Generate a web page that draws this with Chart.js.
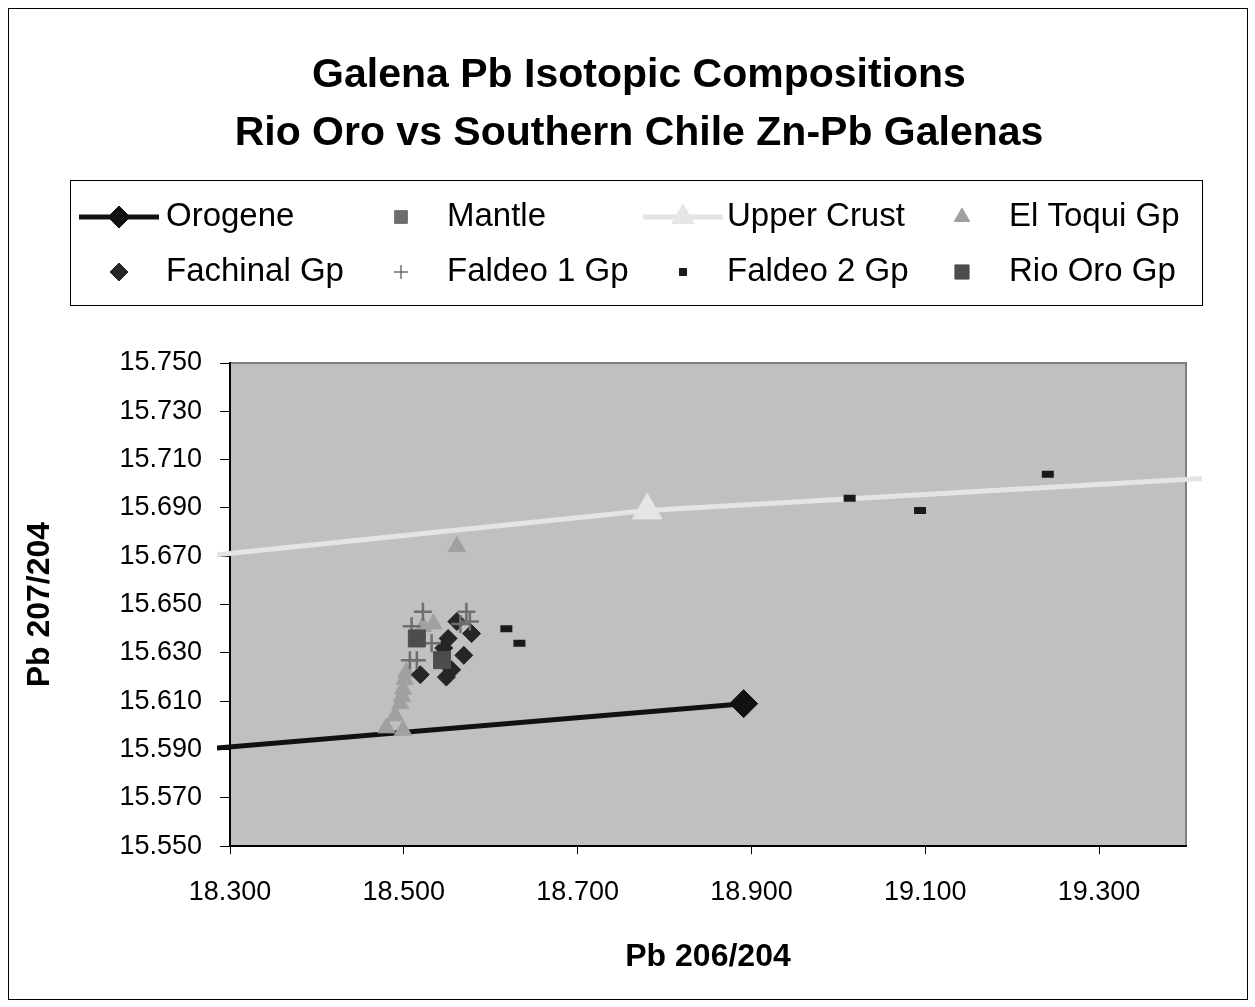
<!DOCTYPE html>
<html>
<head>
<meta charset="utf-8">
<script src="https://cdn.jsdelivr.net/npm/chart.js@4.4.1/dist/chart.umd.min.js"></script>
<style>
  html, body { margin: 0; padding: 0; background: #fff; }
</style>
</head>
<body>
<canvas id="chart" width="1255" height="1007"></canvas>
<script>
// Pb 206/204 (x) vs Pb 207/204 (y)
let orogene_x = [18.0, 18.891];
let orogene_y = [15.582, 15.609];

let mantle_x = [];
let mantle_y = [];

let upper_x = [18.0, 18.780, 19.7];
let upper_y = [15.660, 15.689, 15.708];

let toqui_x = [18.480, 18.499, 18.490, 18.496, 18.498, 18.499, 18.501, 18.503, 18.522, 18.534, 18.561];
let toqui_y = [15.599, 15.598, 15.604, 15.609, 15.612, 15.615, 15.619, 15.622, 15.641, 15.642, 15.674];

let fachinal_x = [18.561, 18.578, 18.551, 18.546, 18.569, 18.555, 18.549, 18.519];
let fachinal_y = [15.643, 15.638, 15.636, 15.632, 15.629, 15.623, 15.620, 15.621];

let faldeo1_x = [18.522, 18.509, 18.532, 18.507, 18.515, 18.572, 18.576, 18.565];
let faldeo1_y = [15.647, 15.641, 15.634, 15.627, 15.627, 15.647, 15.643, 15.642];

let faldeo2_x = [18.618, 18.633, 19.013, 19.094, 19.241];
let faldeo2_y = [15.640, 15.634, 15.694, 15.689, 15.704];

let rioOro_x = [18.515, 18.544];
let rioOro_y = [15.636, 15.627];

let x_ticks = [18.3, 18.5, 18.7, 18.9, 19.1, 19.3];
let y_ticks = [15.55, 15.57, 15.59, 15.61, 15.63, 15.65, 15.67, 15.69, 15.71, 15.73, 15.75];

function pts(xs, ys) {
  return xs.map((x, i) => ({x: x, y: ys[i]}));
}

Chart.defaults.font.family = '"Liberation Sans", Arial, sans-serif';
Chart.defaults.color = '#000';

// Excel lets the lines run a little past the plot frame
let lineClip = {left: 13, right: 16, top: 0, bottom: 0};

let datasets = [
  {
    label: 'Orogene',
    data: pts(orogene_x, orogene_y),
    showLine: true,
    borderColor: '#111111',
    borderWidth: 5,
    pointStyle: 'rectRot',
    pointRadius: 14,
    pointBackgroundColor: '#111111',
    pointBorderColor: '#111111',
    pointBorderWidth: 1,
    clip: lineClip
  },
  {
    label: 'Mantle',
    data: pts(mantle_x, mantle_y),
    pointStyle: 'rect',
    pointRadius: 12,
    pointBackgroundColor: '#6e6e6e',
    pointBorderColor: '#6e6e6e'
  },
  {
    label: 'Upper Crust',
    data: pts(upper_x, upper_y),
    showLine: true,
    borderColor: '#e4e4e4',
    borderWidth: 5,
    pointStyle: 'triangle',
    pointRadius: 17,
    pointBackgroundColor: '#e6e6e6',
    pointBorderColor: '#e6e6e6',
    pointBorderWidth: 1,
    clip: lineClip
  },
  {
    label: 'El Toqui Gp',
    data: pts(toqui_x, toqui_y),
    pointStyle: 'triangle',
    pointRadius: 10,
    pointBackgroundColor: '#a0a0a0',
    pointBorderColor: '#a0a0a0',
    pointBorderWidth: 1
  },
  {
    label: 'Fachinal Gp',
    data: pts(fachinal_x, fachinal_y),
    pointStyle: 'rectRot',
    pointRadius: 9,
    pointBackgroundColor: '#262626',
    pointBorderColor: '#262626',
    pointBorderWidth: 1
  },
  {
    label: 'Faldeo 1 Gp',
    data: pts(faldeo1_x, faldeo1_y),
    pointStyle: 'cross',
    pointRadius: 9,
    pointBackgroundColor: '#6e6e6e',
    pointBorderColor: '#6e6e6e',
    pointBorderWidth: 2.5
  },
  {
    label: 'Faldeo 2 Gp',
    data: pts(faldeo2_x, faldeo2_y),
    pointStyle: 'line',
    pointRadius: 6,
    pointBackgroundColor: '#1a1a1a',
    pointBorderColor: '#1a1a1a',
    pointBorderWidth: 7
  },
  {
    label: 'Rio Oro Gp',
    data: pts(rioOro_x, rioOro_y),
    pointStyle: 'rect',
    pointRadius: 12,
    pointBackgroundColor: '#4d4d4d',
    pointBorderColor: '#4d4d4d',
    pointBorderWidth: 1
  }
];

// first series at the bottom, like Excel
datasets.forEach((ds, i) => { ds.order = datasets.length - i; });

let plotFrame = {
  id: 'plotFrame',
  afterLayout(chart, args, opts) {
    let t = chart.titleBlock;
    let dx = opts.titleCenter - (t.left + t.right) / 2;
    t.left += dx;
    t.right += dx;
  },
  beforeDraw(chart) {
    let ctx = chart.ctx;
    let a = chart.chartArea;
    ctx.save();
    ctx.fillStyle = '#ffffff';
    ctx.fillRect(0, 0, chart.width, chart.height);
    ctx.strokeStyle = '#000';
    ctx.lineWidth = 1;
    ctx.strokeRect(8.5, 8.5, 1239, 991);
    ctx.fillStyle = '#c0c0c0';
    ctx.fillRect(a.left, a.top, a.right - a.left, a.bottom - a.top);
    ctx.strokeStyle = '#808080';
    ctx.lineWidth = 2;
    ctx.beginPath();
    ctx.moveTo(a.left, a.top);
    ctx.lineTo(a.right, a.top);
    ctx.lineTo(a.right, a.bottom);
    ctx.stroke();
    ctx.restore();
  }
};

// Excel style boxed legend, 4 columns x 2 rows
let boxLegend = {
  id: 'boxLegend',
  afterDraw(chart, args, opts) {
    let ctx = chart.ctx;
    ctx.save();
    ctx.strokeStyle = '#000';
    ctx.lineWidth = 1;
    ctx.strokeRect(opts.left + 0.5, opts.top + 0.5, opts.width, opts.height);
    ctx.font = opts.fontSize + 'px "Liberation Sans", Arial, sans-serif';
    ctx.textBaseline = 'middle';
    ctx.textAlign = 'left';

    chart.data.datasets.forEach((ds, i) => {
      let col = i % 4;
      let row = Math.floor(i / 4);
      let cx = opts.symbolX[col];
      let cy = opts.rowY[row];
      let sym = opts.symbols[i];

      if (ds.showLine) {
        ctx.strokeStyle = ds.borderColor;
        ctx.lineWidth = ds.borderWidth;
        ctx.beginPath();
        ctx.moveTo(cx - opts.lineHalf, cy);
        ctx.lineTo(cx + opts.lineHalf, cy);
        ctx.stroke();
      }
      ctx.fillStyle = ds.pointBackgroundColor;
      ctx.strokeStyle = ds.pointBorderColor;
      ctx.lineWidth = sym.borderWidth;
      Chart.helpers.drawPoint(ctx, {
        pointStyle: sym.style,
        radius: sym.radius,
        rotation: 0,
        borderWidth: sym.borderWidth
      }, cx, cy);

      ctx.fillStyle = '#000';
      ctx.fillText(ds.label, opts.textX[col], cy);
    });
    ctx.restore();
  }
};

new Chart(document.getElementById('chart'), {
  type: 'scatter',
  data: {datasets: datasets},
  plugins: [plotFrame, boxLegend],
  options: {
    responsive: false,
    animation: false,
    devicePixelRatio: 1,
    layout: {padding: {top: 0, left: 0, right: 69, bottom: 31}},
    plugins: {
      legend: {display: false},
      tooltip: {enabled: false},
      title: {
        display: true,
        text: ['Galena Pb Isotopic Compositions', 'Rio Oro vs Southern Chile Zn-Pb Galenas'],
        font: {size: 41, weight: 'bold', lineHeight: 1.415},
        color: '#000',
        padding: {top: 47, bottom: 200}
      },
      plotFrame: {titleCenter: 639},
      boxLegend: {
        left: 70, top: 180, width: 1132, height: 125,
        fontSize: 33,
        rowY: [217, 272],
        symbolX: [119, 401, 683, 962],
        textX: [166, 447, 727, 1009],
        lineHalf: 40,
        symbols: [
          {style: 'rectRot', radius: 11, borderWidth: 1},
          {style: 'rect', radius: 9, borderWidth: 1},
          {style: 'triangle', radius: 13, borderWidth: 1},
          {style: 'triangle', radius: 9, borderWidth: 1},
          {style: 'rectRot', radius: 9, borderWidth: 1},
          {style: 'cross', radius: 7, borderWidth: 1.5},
          {style: 'rect', radius: 5, borderWidth: 1},
          {style: 'rect', radius: 10, borderWidth: 1}
        ]
      }
    },
    scales: {
      x: {
        type: 'linear',
        min: 18.3,
        max: 19.4,
        afterBuildTicks: s => { s.ticks = x_ticks.map(v => ({value: v})); },
        ticks: {
          font: {size: 27},
          color: '#000',
          padding: 22,
          maxRotation: 0,
          callback: v => Number(v).toFixed(3)
        },
        grid: {drawOnChartArea: false, tickLength: 8, color: '#000', tickWidth: 1},
        border: {color: '#000', width: 2},
        title: {
          display: true,
          text: 'Pb 206/204',
          font: {size: 32, weight: 'bold'},
          color: '#000',
          padding: {top: 7, bottom: 0}
        }
      },
      y: {
        type: 'linear',
        min: 15.55,
        max: 15.75,
        afterBuildTicks: s => { s.ticks = y_ticks.map(v => ({value: v})); },
        afterFit: s => { s.width = 230; },
        ticks: {
          font: {size: 27},
          color: '#000',
          padding: 18,
          callback: v => Number(v).toFixed(3)
        },
        grid: {drawOnChartArea: false, tickLength: 10, color: '#000', tickWidth: 1},
        border: {color: '#000', width: 2},
        title: {
          display: true,
          text: 'Pb 207/204',
          font: {size: 32, weight: 'bold'},
          color: '#000',
          padding: {top: 21, bottom: 0}
        }
      }
    }
  }
});
</script>
</body>
</html>
